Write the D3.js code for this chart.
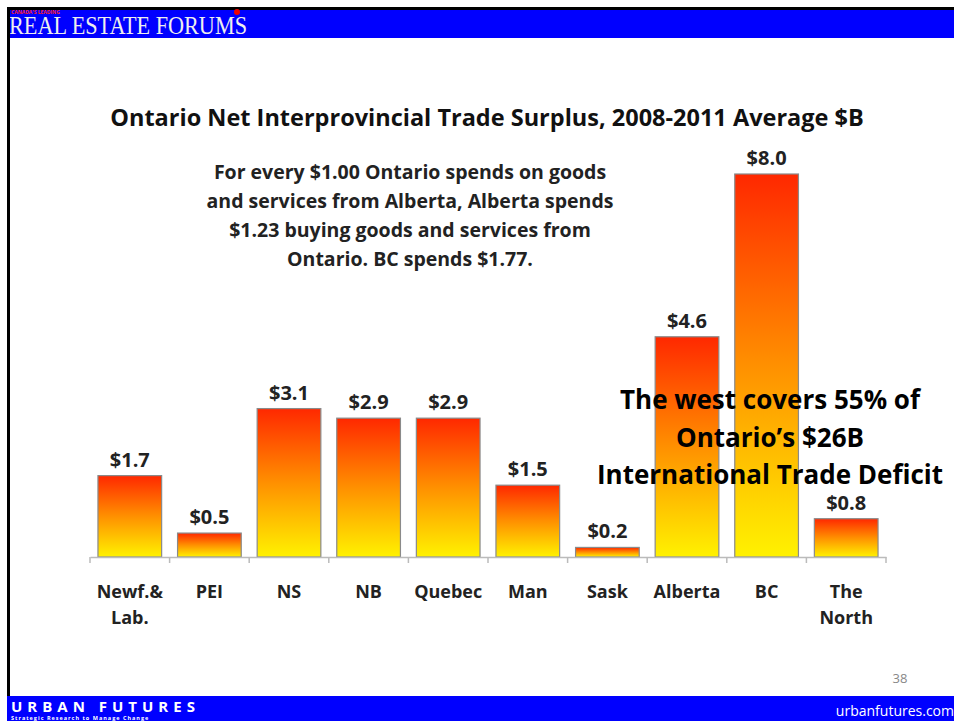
<!DOCTYPE html>
<html>
<head>
<meta charset="utf-8">
<script src="https://cdn.jsdelivr.net/npm/d3@7"></script>
<style>
  body { margin: 0; background: #fff; }
  svg { display: block; }
</style>
</head>
<body>
<svg id="chart" width="954" height="721"></svg>
<script>
// Data
var provinces = ["Newf.& Lab.", "PEI", "NS", "NB", "Quebec", "Man", "Sask", "Alberta", "BC", "The North"];
var surplus = [1.7, 0.5, 3.1, 2.9, 2.9, 1.5, 0.2, 4.6, 8.0, 0.8];
var noteLines = [
  "For every $1.00 Ontario spends on goods",
  "and services from Alberta, Alberta spends",
  "$1.23 buying goods and services from",
  "Ontario. BC spends $1.77."
];
var calloutLines = ["The west covers 55% of", "Ontario\u2019s $26B", "International Trade Deficit"];

var svg = d3.select("#chart");
var font = "'Open Sans', 'DejaVu Sans', sans-serif";

// gradient for bars
var grad = svg.append("defs").append("linearGradient")
    .attr("id", "barGrad").attr("x1", 0).attr("y1", 0).attr("x2", 0).attr("y2", 1);
grad.append("stop").attr("offset", "0%").attr("stop-color", "#ff2800");
grad.append("stop").attr("offset", "50%").attr("stop-color", "#ff9000");
grad.append("stop").attr("offset", "100%").attr("stop-color", "#fff200");

// header band
svg.append("rect").attr("x", 7).attr("y", 7).attr("width", 947).attr("height", 3).attr("fill", "#000");
svg.append("rect").attr("x", 7).attr("y", 10).attr("width", 947).attr("height", 28).attr("fill", "#0000ff");
svg.append("text").attr("x", 11).attr("y", 14)
    .style("font-family", font).style("font-size", "5px").style("font-weight", "bold")
    .attr("fill", "#ff2020").text("CANADA'S LEADING");
svg.append("circle").attr("cx", 237).attr("cy", 12).attr("r", 3).attr("fill", "#e00");
svg.append("text").attr("x", 9).attr("y", 34)
    .style("font-family", "'Liberation Serif', 'DejaVu Serif', serif").style("font-size", "25px")
    .attr("fill", "#eeeeee").attr("textLength", 238).attr("lengthAdjust", "spacingAndGlyphs")
    .text("REAL ESTATE FORUMS");

// left border
svg.append("rect").attr("x", 7).attr("y", 7).attr("width", 3).attr("height", 690).attr("fill", "#000");

// footer band
svg.append("rect").attr("x", 7).attr("y", 696).attr("width", 947).attr("height", 25).attr("fill", "#0000ff");
svg.append("text").attr("x", 11).attr("y", 712)
    .style("font-family", font).style("font-size", "15px").style("font-weight", "bold")
    .style("letter-spacing", "5px").attr("fill", "#fff").text("URBAN FUTURES");
svg.append("text").attr("x", 11).attr("y", 720)
    .style("font-family", font).style("font-size", "5.5px").style("font-weight", "bold")
    .style("letter-spacing", "1px").attr("fill", "#fff").text("Strategic Research to Manage Change");
svg.append("text").attr("x", 954).attr("y", 716).attr("text-anchor", "end")
    .style("font-family", font).style("font-size", "14px").attr("fill", "#fff").text("urbanfutures.com");

// page number
svg.append("text").attr("x", 900).attr("y", 683).attr("text-anchor", "middle")
    .style("font-family", font).style("font-size", "13px").attr("fill", "#888").text("38");

// title
svg.append("text").attr("x", 487).attr("y", 126).attr("text-anchor", "middle")
    .style("font-family", font).style("font-size", "23.5px").style("font-weight", "bold")
    .attr("fill", "#111").text("Ontario Net Interprovincial Trade Surplus, 2008-2011 Average $B");

// scales
var x = d3.scaleBand().domain(provinces).range([90, 886]).paddingInner(0.2).paddingOuter(0.1);
var y = d3.scaleLinear().domain([0, 8]).range([557, 174]);

// bars
svg.append("g").selectAll("rect")
  .data(provinces)
  .enter()
  .append("rect")
    .attr("x", function(d){ return x(d) })
    .attr("y", function(d, i){ return y(surplus[i]) })
    .attr("width", x.bandwidth())
    .attr("height", function(d, i){ return y(0) - y(surplus[i]) })
    .attr("fill", "url(#barGrad)")
    .attr("stroke", "#8a8a8a")
    .attr("stroke-width", 1.2);

// value labels
svg.append("g").selectAll("text")
  .data(provinces)
  .enter()
  .append("text")
    .attr("x", function(d){ return x(d) + x.bandwidth()/2 })
    .attr("y", function(d, i){ return y(surplus[i]) - 9 })
    .attr("text-anchor", "middle")
    .style("font-family", font).style("font-size", "20px").style("font-weight", "bold")
    .attr("fill", "#222")
    .text(function(d, i){ return "$" + surplus[i].toFixed(1) });

// axis
var axis = svg.append("g").attr("transform", "translate(0,557)")
    .call(d3.axisBottom(x).tickSize(0).tickFormat(""));
axis.select(".domain").attr("stroke", "#bbb").attr("stroke-width", 1.5);
var edges = [90].concat(provinces.map(function(d){ return x(d) + x.step()*0.9 }));
axis.selectAll(".edge").data(edges).enter().append("line")
    .attr("x1", function(d){ return d }).attr("x2", function(d){ return d })
    .attr("y1", 0).attr("y2", 6).attr("stroke", "#bbb").attr("stroke-width", 1.5);

// category labels
var cats = svg.append("g").selectAll("text")
  .data(provinces)
  .enter()
  .append("text")
    .attr("x", function(d){ return x(d) + x.bandwidth()/2 })
    .attr("y", 598)
    .attr("text-anchor", "middle")
    .style("font-family", font).style("font-size", "18px").style("font-weight", "bold")
    .attr("fill", "#222");
cats.each(function(d){
  var parts = d === "Newf.& Lab." ? ["Newf.&", "Lab."] : d === "The North" ? ["The", "North"] : [d];
  var t = d3.select(this);
  parts.forEach(function(p, k){
    t.append("tspan").attr("x", x(d) + x.bandwidth()/2).attr("dy", k === 0 ? 0 : 26).text(p);
  });
});

// note text
svg.append("g").selectAll("text")
  .data(noteLines)
  .enter()
  .append("text")
    .attr("x", 410)
    .attr("y", function(d, i){ return 179 + i*29 })
    .attr("text-anchor", "middle")
    .style("font-family", font).style("font-size", "19.5px").style("font-weight", "bold")
    .attr("fill", "#222")
    .text(function(d){ return d });

// callout
svg.append("g").selectAll("text")
  .data(calloutLines)
  .enter()
  .append("text")
    .attr("x", 770)
    .attr("y", function(d, i){ return 409 + i*37.5 })
    .attr("text-anchor", "middle")
    .style("font-family", font).style("font-size", "26px").style("font-weight", "bold")
    .attr("fill", "#000")
    .text(function(d){ return d });
</script>
</body>
</html>
